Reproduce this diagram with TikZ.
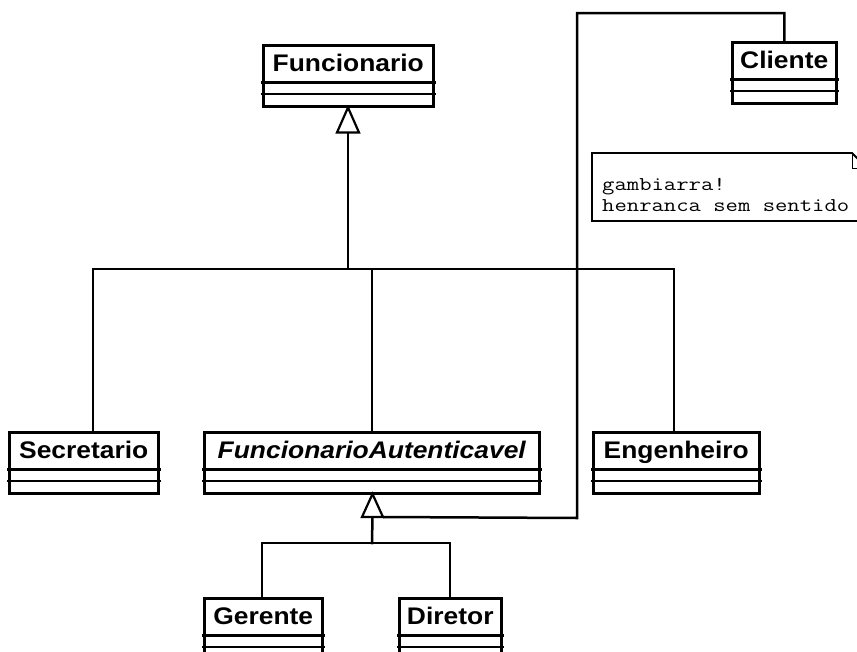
\documentclass[tikz,border=0pt]{standalone}
\usepackage{fontspec}
\usepackage{graphicx}
\newfontfamily\clsfont[FakeStretch=1.1]{Liberation Sans}
\tikzset{
  line/.style={line width=2.5pt, black, line cap=rect},
  clsbox/.style={draw, line width=2.5pt, inner sep=0pt, fill=white},
  clstext/.style={font=\clsfont\bfseries\fontsize{24}{24}\selectfont, inner sep=0pt},
  notetext/.style={font=\ttfamily\fontsize{19.5}{19.5}\selectfont, inner sep=0pt},
  genarrow/.style={line width=2.2pt, fill=white, line join=miter}
}
\newcommand\umlcls[5]{%
  \node[clsbox, minimum width=#4pt, minimum height=61pt, anchor=north west] (#1) at (#2,#3) {};
  \draw[line] ([yshift=-38.5pt]#1.north west) -- ([yshift=-38.5pt]#1.north east);
  \draw[line] ([yshift=-50pt]#1.north west) -- ([yshift=-50pt]#1.north east);
  \node[clstext, anchor=base] (#1-t) at ([yshift=-27pt]#1.north) {#5};
}
\begin{document}
\begin{tikzpicture}[x=1pt,y=-1pt]
\useasboundingbox (0,0) rectangle (857,651);
\clip (0,0) rectangle (857,651);
\fill[white] (0,0) rectangle (857,651);

% classes
\umlcls{fun}{262}{44}{170}{Funcionario}
\umlcls{cli}{731}{41}{104}{Cliente}
\umlcls{sec}{8}{431}{149}{Secretario}
\umlcls{fa}{203}{431}{335}{\itshape FuncionarioAutenticavel}
\umlcls{eng}{592}{431}{166}{Engenheiro}
\umlcls{ger}{203}{597}{118}{Gerente}
\umlcls{dir}{398}{597}{102}{Diretor}

% junction coordinates
\coordinate (t1) at (348,107.5);
\coordinate (bus1) at (348,269);
\coordinate (jsec) at (93,269);
\coordinate (jfa) at (372,269);
\coordinate (jeng) at (674,269);
\coordinate (t2) at (372.5,494);
\coordinate (bus2) at (372,543);
\coordinate (jger) at (262,543);
\coordinate (jdir) at (450,543);
\coordinate (k1) at (577,13);
\coordinate (k2) at (577,518);

% inheritance tree from Funcionario
\draw[line] ([yshift=-25pt]t1) -- (bus1);
\draw[line] (jsec) -- (jeng);
\draw[line] (jsec) -- (jsec |- sec.north);
\draw[line] (jfa) -- (jfa |- fa.north);
\draw[line] (jeng) -- (jeng |- eng.north);
\draw[genarrow] (t1) -- ++(-11,25) coordinate (t1l) -- ++(22,0) coordinate (t1r) -- cycle;

% inheritance tree from FuncionarioAutenticavel
\draw[line] ([yshift=-23pt]t2) -- (bus2);
\draw[line] (jger) -- (jdir);
\draw[line] (jger) -- (jger |- ger.north);
\draw[line] (jdir) -- (jdir |- dir.north);

% Cliente generalization
\draw[line, line cap=butt] (cli.north) |- (k1) -- (k2) -- ([xshift=10.5pt,yshift=-23pt]t2);
\draw[genarrow] (t2) -- ++(-10.5,23) coordinate (t2l) -- ++(21,0) coordinate (t2r) -- cycle;

% note
\draw[line width=1.8pt, fill=white] (592,153) -- (852,153) -- (866,167) -- (866,221) -- (592,221) -- cycle;
\draw[line width=1pt] (852,153) -- (852,168) -- (866,168);
\node[notetext, anchor=base west] (n1) at (602,190) {\scalebox{1.23}[1]{gambiarra!}};
\node[notetext, anchor=base west] (n2) at (602,211) {\scalebox{1.23}[1]{henranca sem sentido}};
\end{tikzpicture}
\end{document}
